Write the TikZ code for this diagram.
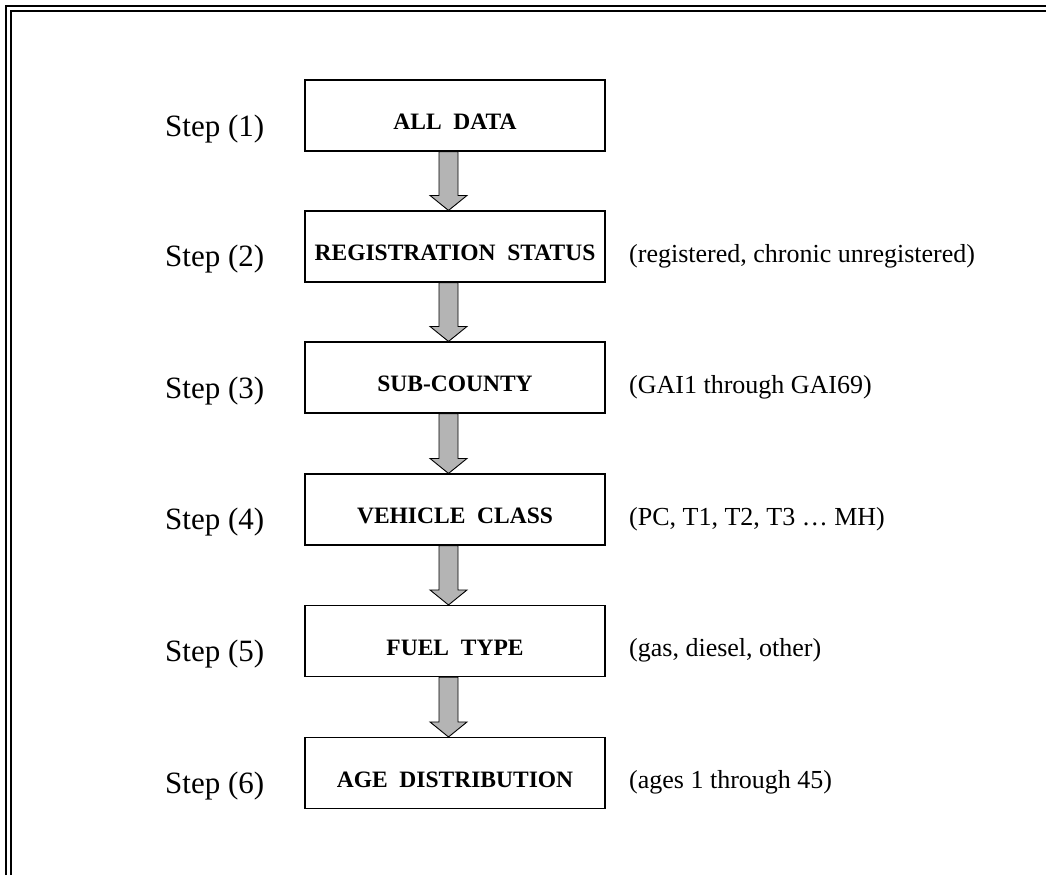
\documentclass[tikz,border=0pt]{standalone}
\usepackage{fontspec}
\setmainfont{Liberation Serif}
\usetikzlibrary{calc}
\definecolor{arrowgray}{RGB}{180,180,180}
\tikzset{
  x=1pt, y=-1pt,
  stepbox/.style={draw, line width=1.1pt, minimum width=300pt, minimum height=71pt,
    inner sep=0pt, text height=28pt, text depth=0pt,
    font=\fontsize{23.5}{24}\selectfont\bfseries},
  steplabel/.style={anchor=base west, inner sep=0pt, font=\fontsize{31}{32}\selectfont},
  note/.style={anchor=base west, inner sep=0pt, font=\fontsize{26}{27}\selectfont},
  fatarr/.style={draw, line width=0.9pt, fill=arrowgray, line join=miter}
}
\newcommand\fatarrow[2]{%
  \draw[fatarr] ($(#1.south)+(-16,0)$) -- ($(#2.north)+(-16,-15)$) -- ($(#2.north)+(-25,-15)$)
    -- ($(#2.north)+(-6.5,0)$) -- ($(#2.north)+(12,-15)$) -- ($(#2.north)+(3,-15)$)
    -- ($(#1.south)+(3,0)$) -- cycle;}
\begin{document}
\begin{tikzpicture}
\useasboundingbox (0,0) rectangle (1046,875);
% frame
\draw[line width=1.4pt] (6,875) -- (6,6) -- (1046,6);
\draw[line width=2.6pt] (11,875) -- (11,11) -- (1046,11);
% boxes
\node[stepbox] (b1) at (455,115.5) {ALL~~DATA};
\node[stepbox] (b2) at (455,246.5) {REGISTRATION~~STATUS};
\node[stepbox] (b3) at (455,377.5) {SUB-COUNTY};
\node[stepbox] (b4) at (455,509.5) {VEHICLE~~CLASS};
\node[stepbox] (b5) at (455,641) {FUEL~~TYPE};
\node[stepbox] (b6) at (455,773) {AGE~~DISTRIBUTION};
% step labels
\node[steplabel] (s1) at (165,136) {Step (1)};
\node[steplabel] (s2) at (165,266) {Step (2)};
\node[steplabel] (s3) at (165,398) {Step (3)};
\node[steplabel] (s4) at (165,529) {Step (4)};
\node[steplabel] (s5) at (165,661) {Step (5)};
\node[steplabel] (s6) at (165,793) {Step (6)};
% notes
\node[note] (n2) at (629,262) {(registered, chronic unregistered)};
\node[note] (n3) at (629,393) {(GAI1 through GAI69)};
\node[note] (n4) at (629,525) {(PC, T1, T2, T3 … MH)};
\node[note] (n5) at (629,656) {(gas, diesel, other)};
\node[note] (n6) at (629,788) {(ages 1 through 45)};
% arrows
\fatarrow{b1}{b2}
\fatarrow{b2}{b3}
\fatarrow{b3}{b4}
\fatarrow{b4}{b5}
\fatarrow{b5}{b6}
\end{tikzpicture}
\end{document}
